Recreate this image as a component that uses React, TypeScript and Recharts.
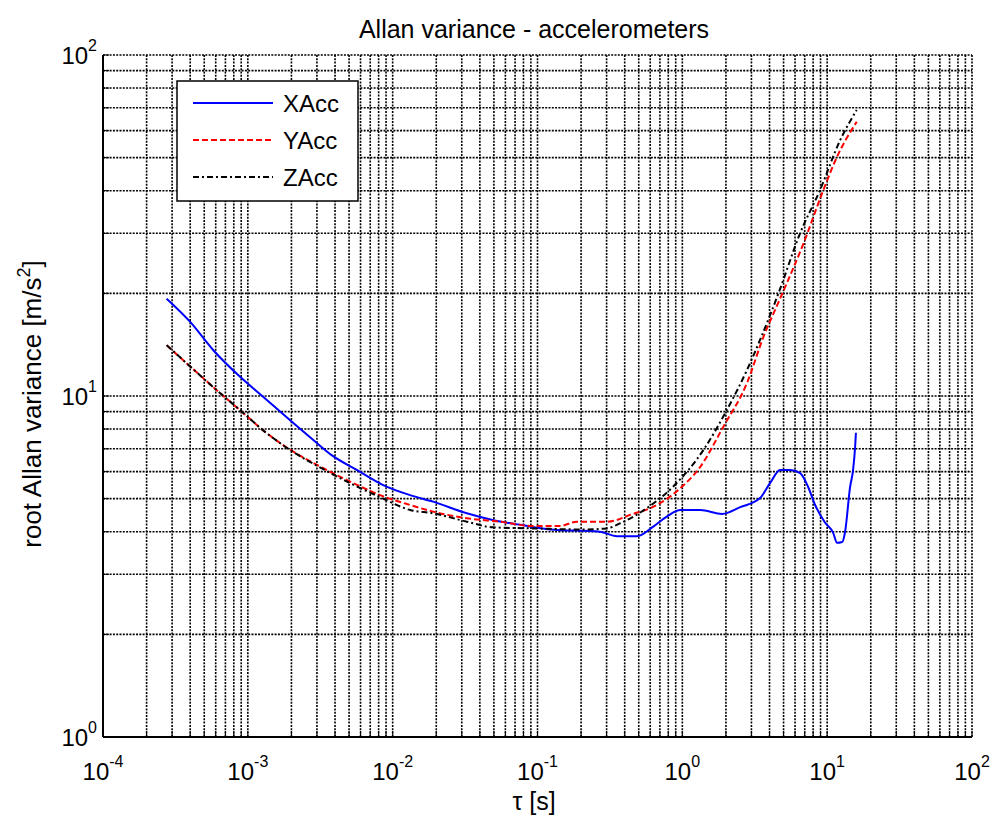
import React from 'react'
import { LineChart, Line, XAxis, YAxis, CartesianGrid } from 'recharts'

// averaging time tau [s] and root Allan variance [m/s^2] for each axis
const tauX = [
  2.75e-4, 4.0e-4, 5.8e-4, 8.8e-4, 1.31e-3, 1.95e-3, 2.83e-3, 3.79e-3, 5.65e-3, 8.6e-3,
  0.0132, 0.019, 0.0325, 0.049, 0.076, 0.122, 0.27, 0.353, 0.485, 0.63, 0.78, 0.97,
  1.33, 1.88, 2.51, 3.44, 4.04, 4.73, 5.55, 6.51, 7.39, 8.26, 9.68, 11.0, 11.7, 12.7,
  13.3, 14.4, 15.1, 15.6, 15.8
]
const accX = [
  19.3, 16.5, 13.6, 11.4, 9.85, 8.5, 7.43, 6.71, 6.07, 5.48,
  5.12, 4.9, 4.53, 4.33, 4.19, 4.06, 4.0, 3.88, 3.88, 4.14, 4.43, 4.63,
  4.63, 4.51, 4.72, 5.02, 5.56, 6.07, 6.07, 5.94, 5.41, 4.79, 4.25, 3.97, 3.71, 3.73,
  4.0, 5.41, 6.07, 7.1, 7.8
]

const tauY = [
  2.75e-4, 4.0e-4, 6.1e-4, 8.8e-4, 1.35e-3, 2.06e-3, 3.32e-3, 5.08e-3, 8.2e-3,
  0.0132, 0.019, 0.0325, 0.055, 0.093, 0.143, 0.187, 0.301, 0.457, 0.628, 0.966,
  1.33, 1.92, 2.79, 3.63, 4.73, 6.86, 9.42, 11.7, 16.0
]
const accY = [
  14.1, 12.2, 10.4, 9.1, 7.78, 6.87, 6.14, 5.61, 5.12,
  4.79, 4.58, 4.38, 4.28, 4.16, 4.16, 4.28, 4.28, 4.51, 4.73, 5.36,
  6.2, 8.13, 10.9, 14.9, 19.3, 28.0, 40.2, 50.3, 63.7
]

const tauZ = [
  2.75e-4, 4.0e-4, 6.1e-4, 8.8e-4, 1.35e-3, 2.06e-3, 3.32e-3, 5.08e-3, 8.2e-3,
  0.0132, 0.019, 0.0325, 0.049, 0.093, 0.207, 0.301, 0.371, 0.569, 0.863,
  1.4, 2.03, 2.79, 3.44, 4.61, 6.5, 8.93, 12.3, 16.0
]
const accZ = [
  14.1, 12.2, 10.4, 9.1, 7.78, 6.85, 6.1, 5.55, 5.05,
  4.63, 4.53, 4.28, 4.12, 4.09, 4.06, 4.09, 4.23, 4.69, 5.42,
  6.95, 9.1, 11.9, 14.6, 20.0, 30.0, 40.2, 56.3, 69.0
]

// log axis decades; grid lines fall on every 1..9 multiple
const xDecades = [-4, -3, -2, -1, 0, 1, 2]
const yDecades = [0, 1, 2]
const minorSteps = [1, 2, 3, 4, 5, 6, 7, 8, 9]

const logTicks = (decades: number[]) => {
  const out: number[] = []
  decades.forEach((d, i) => {
    if (i === decades.length - 1) {
      out.push(Math.pow(10, d))
      return
    }
    minorSteps.forEach((m) => out.push(m * Math.pow(10, d)))
  })
  return out
}

const xTicks = logTicks(xDecades)
const yTicks = logTicks(yDecades)

const series = [
  { name: 'XAcc', tau: tauX, acc: accX, color: '#0000ff', dash: undefined },
  { name: 'YAcc', tau: tauY, acc: accY, color: '#ff0000', dash: '6 3' },
  { name: 'ZAcc', tau: tauZ, acc: accZ, color: '#000000', dash: '6 3 2 3' }
]

const FONT = '"Liberation Sans", Arial, Helvetica, sans-serif'

const decadeOf = (v: number) => {
  const e = Math.log10(v)
  return Math.abs(e - Math.round(e)) < 1e-6 ? Math.round(e) : null
}

const XTick = (props: any) => {
  const { x, y, payload } = props
  const e = decadeOf(payload.value)
  if (e === null) return <g />
  return (
    <text x={x} y={y} textAnchor="middle" fontSize={24} fontFamily={FONT} fill="#000">
      <tspan>10</tspan>
      <tspan dy={-13} fontSize={16}>{e}</tspan>
    </text>
  )
}

const YTick = (props: any) => {
  const { x, y, payload } = props
  const e = decadeOf(payload.value)
  if (e === null) return <g />
  return (
    <text x={x} y={y + 9} textAnchor="end" fontSize={24} fontFamily={FONT} fill="#000">
      <tspan>10</tspan>
      <tspan dy={-13} fontSize={16}>{e}</tspan>
    </text>
  )
}

const NoLabel = () => <g />

export default function App() {
  const W = 992
  const H = 820

  return (
    <div style={{ position: 'absolute', left: 0, top: 0, width: W, height: H, background: '#fff' }}>
      <LineChart width={W} height={H} margin={{ top: 55, right: 20, bottom: 23, left: 43 }}>
        <CartesianGrid stroke="#000" strokeDasharray="2 1.3" strokeWidth={1.6} />
        <XAxis
          xAxisId={0}
          dataKey="tau"
          type="number"
          scale="log"
          domain={[1e-4, 100]}
          allowDataOverflow
          ticks={xTicks}
          interval={0}
          height={60}
          tickSize={-6}
          tickMargin={49}
          tick={<XTick />}
          stroke="#000"
          axisLine={{ stroke: '#000', strokeWidth: 2 }}
          tickLine={{ stroke: '#000', strokeWidth: 1 }}
        />
        <XAxis
          xAxisId="top"
          orientation="top"
          type="number"
          scale="log"
          domain={[1e-4, 100]}
          allowDataOverflow
          ticks={xTicks}
          interval={0}
          height={0}
          tickSize={-6}
          tick={<NoLabel />}
          axisLine={{ stroke: '#000', strokeWidth: 2 }}
          tickLine={{ stroke: '#000', strokeWidth: 1 }}
        />
        <YAxis
          yAxisId={0}
          type="number"
          scale="log"
          domain={[1, 100]}
          allowDataOverflow
          ticks={yTicks}
          interval={0}
          width={60}
          tickSize={-6}
          tickMargin={12}
          tick={<YTick />}
          axisLine={{ stroke: '#000', strokeWidth: 2 }}
          tickLine={{ stroke: '#000', strokeWidth: 1 }}
        />
        <YAxis
          yAxisId="right"
          orientation="right"
          type="number"
          scale="log"
          domain={[1, 100]}
          allowDataOverflow
          ticks={yTicks}
          interval={0}
          width={0}
          tickSize={-6}
          tick={<NoLabel />}
          axisLine={{ stroke: '#000', strokeWidth: 2 }}
          tickLine={{ stroke: '#000', strokeWidth: 1 }}
        />
        {series.map((s) => (
          <Line
            key={s.name}
            xAxisId={0}
            yAxisId={0}
            data={s.tau.map((t, i) => ({ tau: t, acc: s.acc[i] }))}
            dataKey="acc"
            name={s.name}
            type="monotone"
            stroke={s.color}
            strokeWidth={2}
            strokeDasharray={s.dash}
            dot={false}
            activeDot={false}
            isAnimationActive={false}
          />
        ))}
      </LineChart>

      {/* title, axis labels and legend box */}
      <svg
        width={W}
        height={H}
        style={{ position: 'absolute', left: 0, top: 0, pointerEvents: 'none' }}
        fontFamily={FONT}
      >
        <text x={534} y={38} textAnchor="middle" fontSize={25} fill="#000">
          Allan variance - accelerometers
        </text>
        <text x={534} y={810} textAnchor="middle" fontSize={25} fill="#000">
          τ [s]
        </text>
        <text
          x={0}
          y={0}
          transform="translate(41,404) rotate(-90)"
          textAnchor="middle"
          fontSize={26}
          fill="#000"
        >
          <tspan>root Allan variance [m/s</tspan>
          <tspan dy={-11} fontSize={18}>2</tspan>
          <tspan dy={11}>]</tspan>
        </text>

        <rect x={177} y={81} width={181} height={120} fill="#fff" stroke="#000" strokeWidth={1.5} />
        {series.map((s, i) => {
          const cy = 103 + i * 37
          return (
            <g key={s.name}>
              <line
                x1={193}
                x2={273}
                y1={cy}
                y2={cy}
                stroke={s.color}
                strokeWidth={2}
                strokeDasharray={s.dash}
              />
              <text x={283} y={cy + 9} fontSize={24} fill="#000">
                {s.name}
              </text>
            </g>
          )
        })}
      </svg>
    </div>
  )
}
